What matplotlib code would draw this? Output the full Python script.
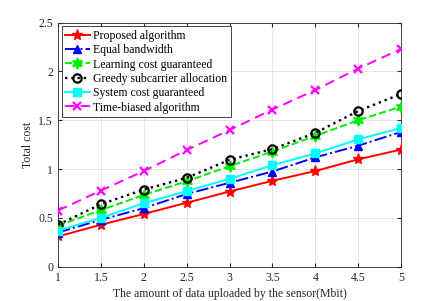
import matplotlib
matplotlib.use("Agg")
import matplotlib.pyplot as plt

x = [1, 1.5, 2, 2.5, 3, 3.5, 4, 4.5, 5]
proposed = [0.31, 0.43, 0.54, 0.655, 0.77, 0.88, 0.98, 1.10, 1.20]
equal_bw = [0.35, 0.48, 0.60, 0.745, 0.86, 0.975, 1.12, 1.24, 1.38]
learning = [0.42, 0.58, 0.735, 0.875, 1.03, 1.18, 1.34, 1.50, 1.64]
greedy = [0.43, 0.64, 0.79, 0.91, 1.095, 1.205, 1.37, 1.595, 1.77]
system = [0.37, 0.50, 0.65, 0.775, 0.90, 1.04, 1.16, 1.305, 1.42]
time_biased = [0.575, 0.78, 0.98, 1.195, 1.40, 1.61, 1.81, 2.03, 2.23]

labels = ["Proposed algorithm", "Equal bandwidth", "Learning cost guaranteed",
          "Greedy subcarrier allocation", "System cost guaranteed", "Time-biased algorithm"]
xticks = [1, 1.5, 2, 2.5, 3, 3.5, 4, 4.5, 5]
yticks = [0, 0.5, 1, 1.5, 2, 2.5]

plt.rcParams['font.family'] = ['Liberation Serif', 'DejaVu Serif']
plt.rcParams['font.size'] = 8.5

fig = plt.figure(figsize=(4.43, 3.01), dpi=100)
ax = fig.add_axes([58/443, 1-266.7/301, (401-58)/443, (266.7-22.7)/301])

lw = 1.4
ax.plot(x, proposed, color='red', ls='-', lw=lw, marker='*', ms=8, label=labels[0], zorder=3)
ax.plot(x, equal_bw, color='blue', ls='-.', lw=lw, marker='^', ms=5.5, label=labels[1], zorder=3)
ax.plot(x, learning, color='#00ee00', ls='--', lw=lw, marker=(6, 1, 0), ms=8, label=labels[2], zorder=3)
ax.plot(x, greedy, color='black', ls=':', lw=lw + 0.3, marker='o', ms=6, mfc='none', mew=1.6, label=labels[3], zorder=3)
ax.plot(x, system, color='cyan', ls='-', lw=lw, marker='s', ms=5.5, label=labels[4], zorder=3)
ax.plot(x, time_biased, color='magenta', ls=(0, (5, 3)), lw=lw, marker='x', ms=6, mew=1.6, label=labels[5], zorder=3)

ax.set_xlim(1, 5)
ax.set_ylim(0, 2.5)
ax.set_xticks(xticks)
ax.set_xticklabels([f"{t:g}" for t in xticks])
ax.set_yticks(yticks)
ax.set_yticklabels([f"{t:g}" for t in yticks])
ax.grid(True, color='#e6e6e6', lw=0.7)
ax.set_axisbelow(True)
ax.tick_params(direction='in', top=True, right=True, length=3, colors='#262626', labelcolor='#262626')
for s in ax.spines.values():
    s.set_color('#262626')
    s.set_linewidth(0.6)
ax.set_xlabel("The amount of data uploaded by the sensor(Mbit)", color='#262626', labelpad=3)
ax.set_ylabel("Total cost", color='#262626', labelpad=3)

leg = ax.legend(loc='upper left', fancybox=False, edgecolor='#262626', framealpha=1,
                handlelength=2.1, labelspacing=0.2, borderpad=0.3, handletextpad=0.3,
                borderaxespad=0.3)
leg.get_frame().set_linewidth(0.6)

fig.savefig("out.png", dpi=100)
